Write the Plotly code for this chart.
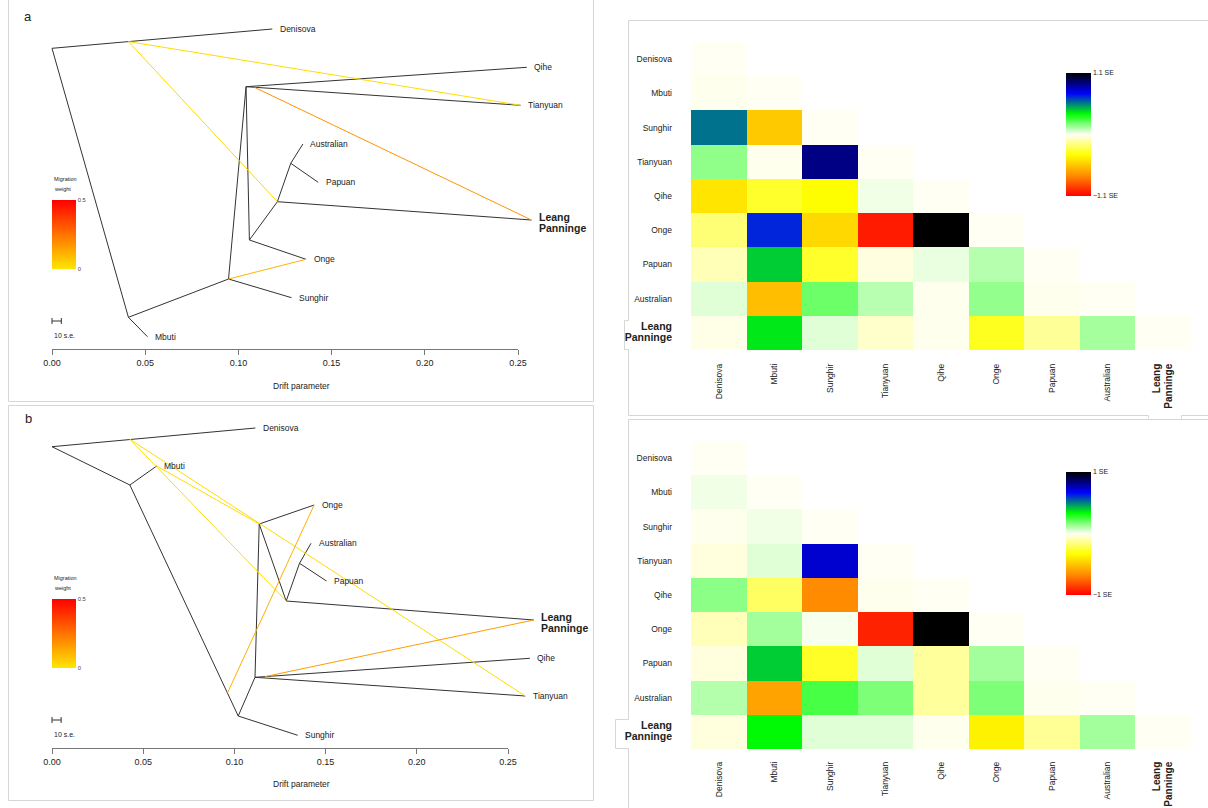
import plotly.graph_objects as go
from plotly.colors import sample_colorscale

W, H = 1208, 808
FONT = "Liberation Sans, Arial, Helvetica, sans-serif"
TXT = "#222222"
TREE_COL = "#333333"
FRAME = "#D6D6D6"


def px(x):
    return x / W


def py(y):
    return 1 - y / H


# ---------------- TreeMix graph, model a ----------------
nodes_a = ["root", "den_mid", "Denisova", "nMbuti", "Mbuti", "nA", "Sunghir",
           "nC", "c_mid", "Qihe", "Tianyuan", "nD", "Onge", "nE",
           "Leang Panninge", "nF", "Australian", "Papuan"]
drift_a = [0.0, 0.041, 0.1182, 0.041, 0.0512, 0.0947, 0.1285,
           0.1041, 0.1086, 0.2547, 0.2514, 0.1059, 0.1363, 0.1209,
           0.2572, 0.1281, 0.1346, 0.1428]
height_a = [48.3, 41.6, 29.0, 317.3, 336.7, 279.0, 297.7,
            86.7, 87.3, 67.3, 105.3, 240.0, 259.3, 201.7,
            220.0, 163.3, 144.0, 182.3]
edges_a = [("root", "Denisova"), ("root", "nMbuti"), ("nMbuti", "Mbuti"),
           ("nMbuti", "nA"), ("nA", "Sunghir"), ("nA", "nC"), ("nC", "Qihe"),
           ("nC", "Tianyuan"), ("nC", "nD"), ("nD", "Onge"), ("nD", "nE"),
           ("nE", "Leang Panninge"), ("nE", "nF"), ("nF", "Australian"),
           ("nF", "Papuan")]
mig_from_a = ["den_mid", "den_mid", "c_mid", "nA"]
mig_to_a = ["Tianyuan", "nE", "Leang Panninge", "Onge"]
mig_w_a = [0.02, 0.03, 0.18, 0.11]

# ---------------- TreeMix graph, model b ----------------
nodes_b = ["root", "den_mid", "Denisova", "nM", "Mbuti", "nA", "a_mid",
           "Sunghir", "nC", "c_mid", "Qihe", "Tianyuan", "nB", "Onge", "nE",
           "Leang Panninge", "nF", "Australian", "Papuan"]
drift_b = [0.0, 0.0427, 0.1115, 0.0427, 0.0574, 0.1021, 0.0962,
           0.1347, 0.1113, 0.1168, 0.2620, 0.2595, 0.1136, 0.1437, 0.1284,
           0.2641, 0.1357, 0.1420, 0.1505]
height_b = [41.7, 34.3, 23.0, 80.0, 61.0, 311.0, 288.0,
            330.3, 272.3, 271.6, 253.3, 291.0, 119.0, 100.0, 196.0,
            215.0, 158.3, 138.3, 176.0]
edges_b = [("root", "Denisova"), ("root", "nM"), ("nM", "Mbuti"),
           ("nM", "nA"), ("nA", "Sunghir"), ("nA", "nC"), ("nC", "Qihe"),
           ("nC", "Tianyuan"), ("nC", "nB"), ("nB", "Onge"), ("nB", "nE"),
           ("nE", "Leang Panninge"), ("nE", "nF"), ("nF", "Australian"),
           ("nF", "Papuan")]
mig_from_b = ["den_mid", "den_mid", "nB", "a_mid", "c_mid"]
mig_to_b = ["Tianyuan", "nE", "Mbuti", "Onge", "Leang Panninge"]
mig_w_b = [0.02, 0.02, 0.02, 0.12, 0.16]

tips = ["Denisova", "Mbuti", "Sunghir", "Qihe", "Tianyuan", "Onge",
        "Leang Panninge", "Australian", "Papuan"]
drift_ticks = [0.0, 0.05, 0.10, 0.15, 0.20, 0.25]
drift_tick_text = ["0.00", "0.05", "0.10", "0.15", "0.20", "0.25"]

MIG_SCALE = [[0.0, "#FFE600"], [1.0, "#FF0000"]]
MIG_MAX = 0.5

# ---------------- residual matrices (lower triangle) ----------------
pops = ["Denisova", "Mbuti", "Sunghir", "Tianyuan", "Qihe", "Onge",
        "Papuan", "Australian", "Leang Panninge"]
resid_a = [
    [0.0],
    [-0.01, 0.0],
    [0.57, -0.54, 0.0],
    [0.16, -0.01, 0.91, 0.0],
    [-0.45, -0.30, -0.37, 0.02, 0.0],
    [-0.19, 0.68, -0.49, -1.03, 1.10, 0.0],
    [-0.09, 0.44, -0.30, -0.03, 0.03, 0.105, 0.0],
    [0.045, -0.57, 0.21, 0.10, -0.01, 0.155, -0.01, 0.0],
    [-0.02, 0.40, 0.045, -0.06, -0.01, -0.32, -0.14, 0.13, 0.0],
]
resid_b = [
    [0.0],
    [0.02, 0.0],
    [-0.01, 0.02, 0.0],
    [-0.03, 0.04, 0.73, 0.0],
    [0.15, -0.20, -0.67, -0.01, 0.0],
    [-0.08, 0.12, 0.01, -0.92, 1.00, 0.0],
    [-0.03, 0.40, -0.28, 0.04, -0.12, 0.12, 0.0],
    [0.10, -0.60, 0.24, 0.17, -0.12, 0.17, -0.01, 0.0],
    [-0.03, 0.34, 0.04, 0.04, -0.01, -0.37, -0.13, 0.12, 0.0],
]
se_a = 1.1
se_b = 1.0

RESID_SCALE = [[0.0, "#FF0000"], [1 / 6, "#FF8C00"], [2 / 6, "#FFFF00"],
               [3 / 6, "#FFFFF4"], [4 / 6, "#00FF00"], [5 / 6, "#0000FF"],
               [1.0, "#000000"]]

fig = go.Figure()
annotations = []


def pop_label(name, size=10.5):
    if name == "Leang Panninge":
        return (f"<b><span style='font-size:{size}px'>Leang</span></b><br>"
                f"<b><span style='font-size:{size}px'>Panninge</span></b>")
    return name


def draw_tree(nodes, drift, height, edges, mfrom, mto, mw, xa, ya):
    pos = {n: (d, h) for n, d, h in zip(nodes, drift, height)}
    xs, ys = [], []
    for p, c in edges:
        xs += [pos[p][0], pos[c][0], None]
        ys += [pos[p][1], pos[c][1], None]
    fig.add_trace(go.Scatter(x=xs, y=ys, mode="lines",
                             line=dict(color=TREE_COL, width=1),
                             xaxis=xa, yaxis=ya, hoverinfo="skip",
                             showlegend=False))
    for f, t, w in zip(mfrom, mto, mw):
        col = sample_colorscale(MIG_SCALE, [w / MIG_MAX])[0]
        fig.add_trace(go.Scatter(x=[pos[f][0], pos[t][0]],
                                 y=[pos[f][1], pos[t][1]], mode="lines",
                                 line=dict(color=col, width=1),
                                 xaxis=xa, yaxis=ya, hoverinfo="skip",
                                 showlegend=False))
    for t in tips:
        big = t == "Leang Panninge"
        annotations.append(dict(
            x=pos[t][0], y=pos[t][1], xref=xa, yref=ya,
            text=pop_label(t), showarrow=False,
            xanchor="left", yanchor="middle", align="left", xshift=5.5,
            yshift=-2 if big else 0,
            font=dict(family=FONT, size=8.5, color=TXT)))


draw_tree(nodes_a, drift_a, height_a, edges_a, mig_from_a, mig_to_a,
          mig_w_a, "x", "y")
draw_tree(nodes_b, drift_b, height_b, edges_b, mig_from_b, mig_to_b,
          mig_w_b, "x2", "y2")

# drift axes (x3 / x4) carry the tick marks
for xa, ya in (("x3", "y3"), ("x4", "y4")):
    fig.add_trace(go.Scatter(x=[0, 0.25], y=[0, 0], mode="markers",
                             marker=dict(opacity=0), xaxis=xa, yaxis=ya,
                             hoverinfo="skip", showlegend=False))

# scale bars "10 s.e." and migration weight legends
se_bar = 0.005
for xa, ya, ybar, ytxt, ylab, ycb in (("x", "y", 321, 335, 179, 234.5),
                                       ("x2", "y2", 315, 329, 173, 633.5)):
    fig.add_trace(go.Scatter(
        x=[0, se_bar, None, 0, 0, None, se_bar, se_bar],
        y=[ybar, ybar, None, ybar - 3, ybar + 3, None, ybar - 3, ybar + 3],
        mode="lines", line=dict(color=TREE_COL, width=1), xaxis=xa, yaxis=ya,
        hoverinfo="skip", showlegend=False))
    annotations.append(dict(x=0, y=ytxt, xref=xa, yref=ya, text="10 s.e.",
                            showarrow=False, xanchor="left",
                            yanchor="middle",
                            font=dict(family=FONT, size=7, color=TXT)))
    annotations.append(dict(x=0, y=ylab, xref=xa, yref=ya, text="Migration",
                            showarrow=False, xanchor="left",
                            yanchor="middle",
                            font=dict(family=FONT, size=5.5, color=TXT)))
    annotations.append(dict(x=0, y=ylab + 10, xref=xa, yref=ya,
                            text="weight", showarrow=False, xanchor="left",
                            yanchor="middle",
                            font=dict(family=FONT, size=5.5, color=TXT)))
    fig.add_trace(go.Scatter(
        x=[None, None], y=[None, None], mode="markers", xaxis=xa, yaxis=ya,
        hoverinfo="skip", showlegend=False,
        marker=dict(color=[0, MIG_MAX], cmin=0, cmax=MIG_MAX,
                    colorscale=MIG_SCALE, showscale=True,
                    colorbar=dict(x=px(52), xanchor="left", y=py(ycb),
                                  yanchor="middle", len=69, lenmode="pixels",
                                  thickness=24, thicknessmode="pixels",
                                  xpad=0, ypad=0, outlinewidth=0, ticks="",
                                  tickvals=[0, 0.5], ticktext=["0", "0.5"],
                                  tickfont=dict(family=FONT, size=5.8,
                                                color="#444444")))))

# residual heatmaps
for resid, se, xa, ya, cb_top in ((resid_a, se_a, "x5", "y5", 73),
                                  (resid_b, se_b, "x6", "y6", 472)):
    z = [row + [None] * (len(pops) - len(row)) for row in resid]
    lab = "1 SE" if se == 1.0 else f"{se} SE"
    fig.add_trace(go.Heatmap(
        z=z, x=pops, y=pops, zmin=-se, zmax=se, colorscale=RESID_SCALE,
        xaxis=xa, yaxis=ya, hoverongaps=False, hoverinfo="skip",
        colorbar=dict(x=px(1066), xanchor="left", y=py(cb_top),
                      yanchor="top", len=123, lenmode="pixels", thickness=25,
                      thicknessmode="pixels", xpad=0, ypad=0, outlinewidth=0,
                      ticks="", tickvals=[-se, se],
                      ticktext=["\u2212" + lab, lab],
                      tickfont=dict(family=FONT, size=7, color=TXT))))

y_tick_text = [pop_label(p) for p in pops]
x_tick_text = [pop_label(p, 10) for p in pops]

layout_axes = dict(
    xaxis=dict(domain=[px(8), px(593)], range=[(8 - 52) / 1864,
                                                (593 - 52) / 1864],
               visible=False, anchor="y"),
    yaxis=dict(domain=[py(401), py(0)], range=[401, 0], visible=False,
               anchor="x"),
    xaxis2=dict(domain=[px(8), px(593)], range=[(8 - 52) / 1824,
                                                 (593 - 52) / 1824],
                visible=False, anchor="y2"),
    yaxis2=dict(domain=[py(800), py(405)], range=[395, 0], visible=False,
                anchor="x2"),
)
for xa, ya, x1, yline in (("xaxis3", "yaxis3", 518, 349),
                          ("xaxis4", "yaxis4", 508, 748)):
    layout_axes[xa] = dict(domain=[px(52), px(x1)], range=[0, 0.25],
                           anchor="y" + ya[-1], showline=True,
                           linecolor="#777777", linewidth=1, ticks="outside",
                           ticklen=5, tickcolor="#777777", tickwidth=1,
                           tickvals=drift_ticks, ticktext=drift_tick_text,
                           tickfont=dict(family=FONT, size=9, color=TXT),
                           showgrid=False, zeroline=False)
    layout_axes[ya] = dict(domain=[py(yline), py(yline - 20)], range=[0, 1],
                           visible=False, anchor="x" + xa[-1])
for xa, ya, y0, y1, stand in (("xaxis5", "yaxis5", 42, 350, 11),
                              ("xaxis6", "yaxis6", 441, 749, 10)):
    layout_axes[xa] = dict(domain=[px(691), px(1191)], anchor="y" + ya[-1],
                           tickangle=-90, ticks="", showgrid=False,
                           zeroline=False, showline=False,
                           tickvals=pops, ticktext=x_tick_text,
                           ticklabelstandoff=stand,
                           tickfont=dict(family=FONT, size=8.5, color=TXT))
    layout_axes[ya] = dict(domain=[py(y1), py(y0)], anchor="x" + xa[-1],
                           autorange="reversed", ticks="", showgrid=False,
                           zeroline=False, showline=False,
                           tickvals=pops, ticktext=y_tick_text,
                           ticklabelstandoff=18,
                           tickfont=dict(family=FONT, size=8.5, color=TXT))

# axis titles and panel letters
for yt in (386, 784):
    annotations.append(dict(x=px(301), y=py(yt), xref="paper", yref="paper",
                            text="Drift parameter", showarrow=False,
                            xanchor="center", yanchor="middle",
                            font=dict(family=FONT, size=8.5, color=TXT)))
for letter, yl in (("a", 16), ("b", 418)):
    annotations.append(dict(x=px(28), y=py(yl), xref="paper", yref="paper",
                            text=letter, showarrow=False, xanchor="center",
                            yanchor="middle",
                            font=dict(family=FONT, size=13, color=TXT)))


def path(points):
    out = []
    for i, (x, y) in enumerate(points):
        out.append(("M" if i == 0 else "L") + f"{px(x):.5f},{py(y):.5f}")
    return " ".join(out)


frame_paths = [
    [(8.5, -2), (8.5, 401.5), (593.5, 401.5), (593.5, -2)],
    [(8.5, 405.5), (593.5, 405.5), (593.5, 800.5), (8.5, 800.5),
     (8.5, 405.5)],
    [(1212, 20.5), (628.5, 20.5), (628.5, 320.5), (624.5, 320.5),
     (624.5, 349.5), (628.5, 349.5), (628.5, 415.5), (1148.5, 415.5),
     (1148.5, 418.5)],
    [(1181.5, 418.5), (1181.5, 415.5), (1212, 415.5)],
    [(1212, 419.5), (628.5, 419.5), (628.5, 719.5), (615.5, 719.5),
     (615.5, 748.5), (628.5, 748.5), (628.5, 812)],
]
shapes = [dict(type="path", path=path(p), xref="paper", yref="paper",
               line=dict(color=FRAME, width=1), layer="below")
          for p in frame_paths]

fig.update_layout(
    width=W, height=H,
    margin=dict(l=0, r=0, t=0, b=0, pad=0, autoexpand=False),
    paper_bgcolor="white", plot_bgcolor="rgba(0,0,0,0)",
    showlegend=False, annotations=annotations, shapes=shapes,
    font=dict(family=FONT, color=TXT), **layout_axes)

fig.write_html("out.html")
